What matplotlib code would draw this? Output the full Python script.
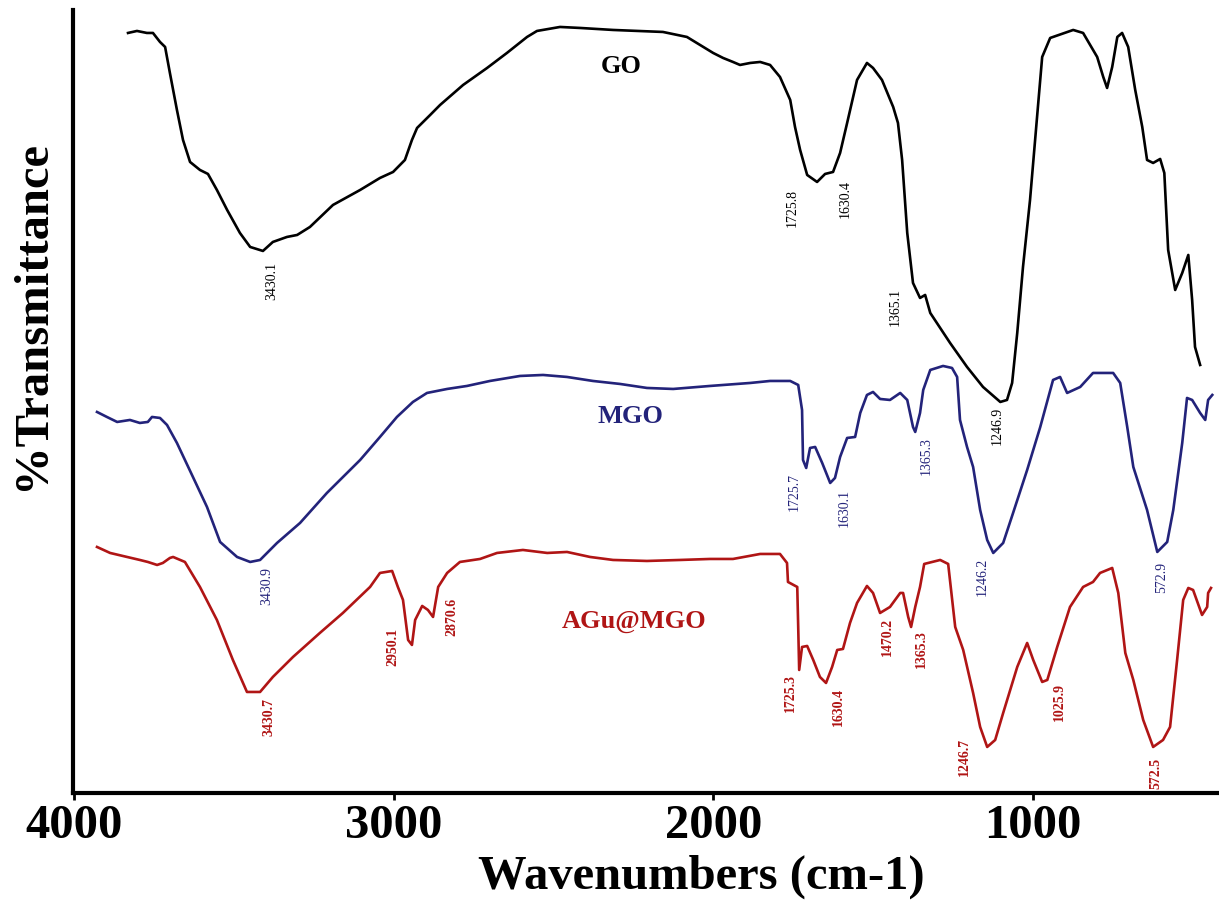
import matplotlib
matplotlib.use("Agg")
import matplotlib.pyplot as plt
import numpy as np

plt.rcParams['font.family'] = ['Liberation Serif', 'DejaVu Serif']

# FTIR spectra (wavenumber cm-1, transmittance a.u.)
go_wn = [3831, 3803, 3772, 3753, 3731, 3715, 3700, 3678, 3659, 3637, 3606, 3581, 3553, 3521,
         3481, 3449, 3409, 3378, 3334, 3302, 3262, 3190, 3105, 3043, 3002, 2965, 2943, 2927,
         2886, 2855, 2783, 2708, 2646, 2583, 2552, 2480, 2417, 2314, 2158, 2083, 2042, 2001,
         1970, 1939, 1917, 1885, 1854, 1823, 1792, 1760, 1745, 1729, 1707, 1676, 1651, 1626,
         1604, 1582, 1551, 1520, 1501, 1473, 1438, 1423, 1410, 1394, 1376, 1354, 1338, 1322,
         1260, 1207, 1157, 1103, 1082, 1066, 1050, 1032, 1010, 988, 972, 947, 875, 844, 800,
         781, 769, 753, 737, 722, 703, 681, 659, 644, 625, 603, 590, 578, 556, 534, 515, 503,
         494, 478]
go_t = [76.0, 76.2, 76.0, 76.0, 75.1, 74.6, 72.0, 68.3, 65.3, 63.1, 62.3, 61.9, 60.3, 58.3,
        56.0, 54.6, 54.2, 55.1, 55.6, 55.8, 56.6, 58.8, 60.3, 61.5, 62.1, 63.3, 65.3, 66.5,
        67.8, 68.8, 70.8, 72.5, 74.0, 75.6, 76.2, 76.6, 76.5, 76.3, 76.1, 75.6, 74.8, 74.0,
        73.5, 73.1, 72.8, 73.0, 73.1, 72.8, 71.6, 69.3, 66.6, 64.3, 61.8, 61.1, 61.9, 62.1,
        64.0, 67.0, 71.3, 73.0, 72.5, 71.3, 68.6, 67.0, 63.3, 56.0, 51.0, 49.5, 49.8, 48.0,
        45.0, 42.6, 40.6, 39.1, 39.3, 41.0, 46.0, 52.6, 59.3, 67.6, 73.6, 75.5, 76.3, 76.0, 73.6,
        71.6, 70.5, 72.6, 75.6, 76.0, 74.6, 70.3, 66.6, 63.3, 63.0, 63.4, 62.0, 54.3, 50.3, 52.0,
        53.8, 49.3, 44.6, 42.8]

mgo_wn = [3928, 3897, 3865, 3825, 3794, 3769, 3756, 3731, 3709, 3678, 3628, 3584, 3543, 3490,
          3449, 3418, 3365, 3293, 3209, 3105, 3043, 2990, 2940, 2896, 2833, 2771, 2699, 2605,
          2533, 2458, 2377, 2292, 2208, 2126, 2011, 1885, 1823, 1760, 1735, 1723, 1720, 1710,
          1698, 1682, 1660, 1635, 1620, 1604, 1582, 1557, 1541, 1520, 1501, 1479, 1448, 1416,
          1394, 1376, 1369, 1354, 1344, 1322, 1282, 1254, 1238, 1229, 1207, 1188, 1166, 1144,
          1125, 1094, 1063, 1019, 978, 938, 916, 894, 853, 813, 781, 750, 728, 706, 687, 644,
          612, 581, 562, 534, 519, 503, 478, 462, 453, 440]
mgo_t = [38.1, 37.6, 37.1, 37.3, 37.0, 37.1, 37.6, 37.5, 36.8, 35.0, 31.6, 28.6, 25.1, 23.6,
         23.1, 23.3, 25.0, 27.0, 30.0, 33.3, 35.6, 37.6, 39.1, 40.0, 40.4, 40.7, 41.2, 41.7,
         41.8, 41.6, 41.2, 40.9, 40.5, 40.4, 40.7, 41.0, 41.2, 41.2, 40.8, 38.3, 33.3, 32.5,
         34.5, 34.6, 33.0, 31.0, 31.5, 33.6, 35.5, 35.6, 38.0, 39.8, 40.1, 39.4, 39.3, 40.0,
         39.3, 36.6, 36.1, 38.0, 40.3, 42.3, 42.7, 42.5, 41.6, 37.3, 34.6, 32.6, 28.3, 25.3,
         24.0, 25.0, 28.0, 32.3, 36.6, 41.3, 41.6, 40.0, 40.6, 42.0, 42.0, 42.0, 41.0, 36.6,
         32.6, 28.3, 24.1, 25.1, 28.3, 35.0, 39.5, 39.3, 38.0, 37.3, 39.3, 39.8]

agu_wn = [3928, 3887, 3834, 3794, 3769, 3740, 3722, 3700, 3690, 3653, 3606, 3553, 3503, 3459,
          3418, 3378, 3315, 3231, 3159, 3074, 3043, 3005, 2987, 2971, 2955, 2943, 2933, 2911,
          2893, 2877, 2861, 2833, 2793, 2730, 2677, 2596, 2520, 2458, 2386, 2314, 2208, 2104,
          2011, 1939, 1854, 1792, 1770, 1767, 1738, 1735, 1732, 1723, 1707, 1688, 1667, 1648,
          1629, 1613, 1595, 1573, 1551, 1520, 1501, 1479, 1448, 1416, 1407, 1391, 1382, 1369,
          1354, 1341, 1291, 1266, 1244, 1219, 1188, 1166, 1144, 1119, 1094, 1050, 1019, 1000,
          972, 956, 925, 885, 844, 813, 791, 753, 734, 712, 687, 656, 625, 594, 572, 550, 531,
          515, 500, 472, 456, 453, 444]
agu_t = [24.6, 24.0, 23.6, 23.3, 23.1, 22.8, 23.0, 23.5, 23.6, 23.1, 20.6, 17.3, 13.3, 10.1,
         10.1, 11.6, 13.6, 16.0, 18.0, 20.6, 22.0, 22.2, 20.6, 19.3, 15.3, 14.8, 17.3, 18.7,
         18.3, 17.6, 20.6, 22.0, 23.1, 23.4, 24.0, 24.3, 24.0, 24.1, 23.6, 23.3, 23.2, 23.3,
         23.4, 23.4, 23.9, 23.9, 23.0, 21.1, 20.6, 16.6, 12.3, 14.6, 14.7, 13.3, 11.6, 11.0,
         12.6, 14.3, 14.4, 17.0, 19.0, 20.7, 20.0, 18.0, 18.6, 20.0, 20.0, 17.6, 16.6, 18.6,
         20.6, 22.9, 23.3, 22.9, 16.6, 14.3, 10.0, 6.6, 4.6, 5.3, 8.0, 12.6, 15.0, 13.3,
         11.1, 11.3, 14.6, 18.6, 20.6, 21.1, 22.0, 22.5, 20.0, 14.0, 11.3, 7.3, 4.6, 5.3, 6.6,
         13.3, 19.3, 20.5, 20.3, 17.8, 18.6, 20.0, 20.5]

# peak labels: (text, wavenumber position, transmittance position)
go_peaks = [("3430.1", 3381, 51.2), ("1725.8", 1754, 58.5), ("1630.4", 1588, 59.4),
            ("1365.1", 1432, 48.6), ("1246.9", 1113, 36.7)]
mgo_peaks = [("3430.9", 3396, 20.7), ("1725.7", 1748, 30.1), ("1630.1", 1591, 28.5),
             ("1365.3", 1335, 33.7), ("1246.2", 1160, 21.6), ("572.9", 597, 21.6)]
agu_peaks = [("3430.7", 3390, 7.6), ("2950.1", 3002, 14.6), ("2870.6", 2818, 17.6),
             ("1725.3", 1760, 10.0), ("1630.4", 1610, 8.6), ("1470.2", 1457, 15.6),
             ("1365.3", 1351, 14.4), ("1246.7", 1216, 3.6), ("1025.9", 919, 9.1),
             ("572.5", 616, 2.0)]

c_go = "black"
c_mgo = "#23237a"
c_agu = "#b01515"

fig = plt.figure(figsize=(12.19, 9.05), dpi=100)
ax = fig.add_axes([0.0599, 0.1238, 0.9401, 0.8652])

ax.plot(go_wn, go_t, color=c_go, lw=1.9)
ax.plot(mgo_wn, mgo_t, color=c_mgo, lw=1.9)
ax.plot(agu_wn, agu_t, color=c_agu, lw=1.9)

for txt, x, y in go_peaks:
    ax.text(x, y, txt, rotation=90, ha="center", va="center", fontsize=10, color=c_go)
for txt, x, y in mgo_peaks:
    ax.text(x, y, txt, rotation=90, ha="center", va="center", fontsize=10, color=c_mgo)
for txt, x, y in agu_peaks:
    ax.text(x, y, txt, rotation=90, ha="center", va="center", fontsize=10,
            color=c_agu, fontweight="bold")

ax.text(2289, 72.6, "GO", ha="center", va="center", fontsize=19, fontweight="bold", color=c_go)
ax.text(2261, 37.6, "MGO", ha="center", va="center", fontsize=19, fontweight="bold", color=c_mgo)
ax.text(2248, 17.1, "AGu@MGO", ha="center", va="center", fontsize=19, fontweight="bold", color=c_agu)

ax.set_xlim(4003, 419)
ax.set_ylim(0, 78.3)
ax.set_xticks([4000, 3000, 2000, 1000])
ax.set_yticks([])
ax.tick_params(axis="x", direction="out", length=5, width=2, pad=3, labelsize=35)
for lab in ax.get_xticklabels():
    lab.set_fontweight("bold")
ax.spines["top"].set_visible(False)
ax.spines["right"].set_visible(False)
ax.spines["left"].set_linewidth(3)
ax.spines["bottom"].set_linewidth(3)

ax.set_xlabel("Wavenumbers (cm-1)", fontsize=35, fontweight="bold")
ax.xaxis.set_label_coords(0.548, -0.107)
ax.xaxis.label.set_va("center")
ax.set_ylabel("%Transmittance", fontsize=35, fontweight="bold")
ax.yaxis.set_label_coords(-0.036, 0.61)
ax.yaxis.label.set_va("center")

fig.savefig("out.png", dpi=100)
